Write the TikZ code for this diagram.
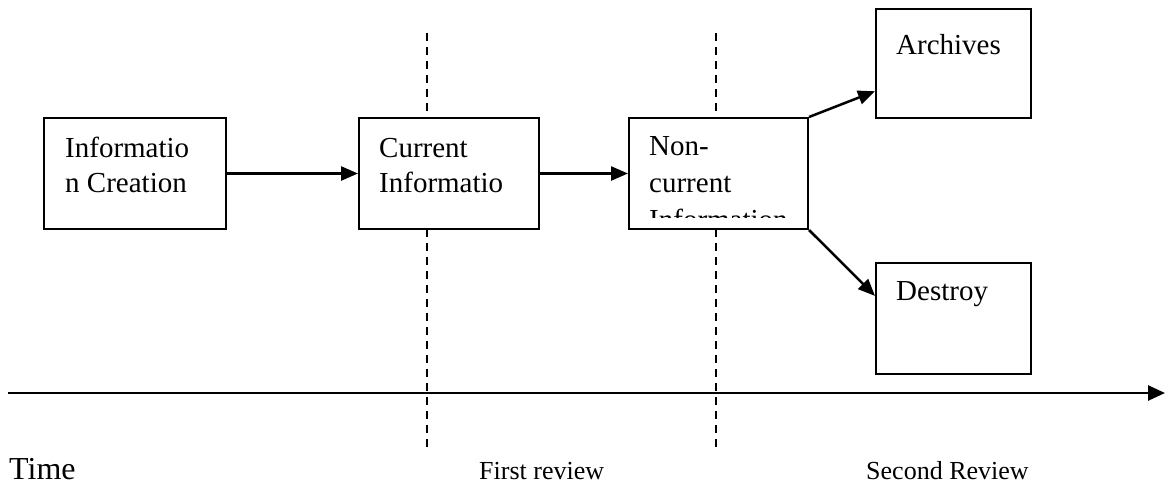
\documentclass[tikz,border=0pt]{standalone}
\usepackage{fontspec}
\setmainfont{Liberation Serif}
\usetikzlibrary{arrows.meta,calc}
% stacked lines whose baseline is that of the first line
\newcommand\stacklines[2][35pt]{\vtop{\baselineskip=#1\halign{##\hfil\cr#2\crcr}}}
\begin{document}
\begin{tikzpicture}[x=1pt,y=-1pt,
  stage/.style={draw=black,line width=2pt,fill=white,inner sep=0pt,anchor=north west},
  label/.style={anchor=base west,inner sep=0pt,font=\fontsize{29}{35}\selectfont},
  flow/.style={line width=2.5pt,-{Triangle[length=17pt,width=14pt]}},
  review/.style={line width=1.5pt,dash pattern=on 8pt off 6pt},
  foot/.style={anchor=base west,inner sep=0pt,font=\fontsize{26}{30}\selectfont}]
\useasboundingbox (0,0) rectangle (1166,485);

% review boundaries
\coordinate (r1top) at (427,33);
\coordinate (r1bot) at (427,447);
\coordinate (r2top) at (716,33);
\coordinate (r2bot) at (716,447);
\draw[review] (r1top) -- (r1bot);
\draw[review] (r2top) -- (r2bot);

% stages
\node[stage,minimum width=182pt,minimum height=111pt] (ic)   at (43,117)  {};
\node[stage,minimum width=180pt,minimum height=111pt] (cur)  at (358,117) {};
\node[stage,minimum width=179pt,minimum height=111pt] (non)  at (628,117) {};
\node[stage,minimum width=155pt,minimum height=109pt] (arch) at (875,8)   {};
\node[stage,minimum width=155pt,minimum height=111pt] (des)  at (875,262) {};

% stage texts
\node[label] (ict) at (65,157) {\stacklines{Informatio\cr n Creation}};
\node[label] (curt) at (379,157) {\stacklines{Current\cr Informatio}};
\begin{scope}
  \clip (629,118) rectangle (806,217);
  \node[label] (nont) at (649,155) {\stacklines[37pt]{Non-\cr current\cr Information}};
\end{scope}
\node[label] (archt) at (896,54) {Archives};
\node[label] (dest) at (896,300) {Destroy};

% flow between stages
\coordinate (archin) at ($(arch.south west)!0.25!(arch.north west)$);
\coordinate (desin) at ($(des.north west)!0.3!(des.south west)$);
\draw[flow] (ic.east) -- (cur.west);
\draw[flow] (cur.east) -- (non.west);
\draw[flow] (non.north east) -- (archin);
\draw[flow] (non.south east) -- (desin);

% time axis
\coordinate (t0) at (8,393);
\coordinate (t1) at (1165,393);
\draw[line width=2.6pt,-{Triangle[length=17pt,width=15pt]}] (t0) -- (t1);

% axis labels
\node[foot,font=\fontsize{32}{36}\selectfont] (time) at (9,479) {Time};
\node[foot] (rev1) at (479,479) {First review};
\node[foot] (rev2) at (866,479) {Second Review};
\end{tikzpicture}
\end{document}
